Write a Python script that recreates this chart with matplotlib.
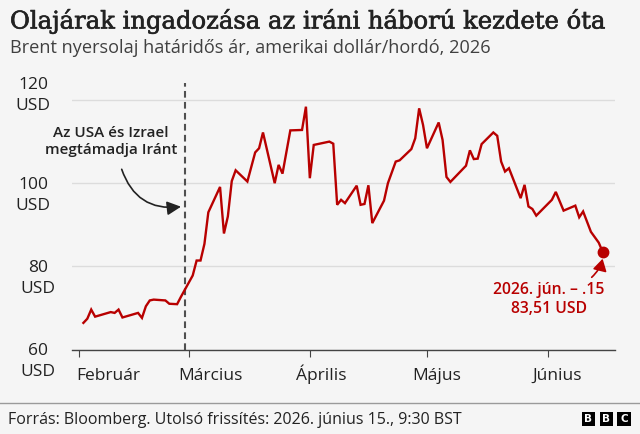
import matplotlib
matplotlib.use("Agg")
import matplotlib.pyplot as plt
import matplotlib.dates as mdates
import matplotlib.patheffects as pe
from matplotlib.patches import FancyArrowPatch, Rectangle
import numpy as np

# ---------------- data ----------------
dates = [
    "2026-02-02", "2026-02-03", "2026-02-04", "2026-02-05", "2026-02-09", "2026-02-10",
    "2026-02-11", "2026-02-12", "2026-02-16", "2026-02-17", "2026-02-18", "2026-02-19",
    "2026-02-20", "2026-02-23", "2026-02-24", "2026-02-26", "2026-02-27", "2026-03-02",
    "2026-03-03", "2026-03-04", "2026-03-05", "2026-03-06", "2026-03-09", "2026-03-10",
    "2026-03-11", "2026-03-12", "2026-03-13", "2026-03-16", "2026-03-18", "2026-03-19",
    "2026-03-20", "2026-03-23", "2026-03-24", "2026-03-25", "2026-03-27", "2026-03-30",
    "2026-03-31", "2026-04-01", "2026-04-02", "2026-04-06", "2026-04-07", "2026-04-08",
    "2026-04-09", "2026-04-10", "2026-04-13", "2026-04-14", "2026-04-15", "2026-04-16",
    "2026-04-17", "2026-04-20", "2026-04-21", "2026-04-23", "2026-04-24", "2026-04-27",
    "2026-04-28", "2026-04-29", "2026-04-30", "2026-05-01", "2026-05-04", "2026-05-05",
    "2026-05-06", "2026-05-07", "2026-05-11", "2026-05-12", "2026-05-13", "2026-05-14",
    "2026-05-15", "2026-05-18", "2026-05-19", "2026-05-20", "2026-05-21", "2026-05-22",
    "2026-05-25", "2026-05-26", "2026-05-27", "2026-05-28", "2026-05-29", "2026-06-02",
    "2026-06-03", "2026-06-05", "2026-06-08", "2026-06-09", "2026-06-10", "2026-06-12",
    "2026-06-14", "2026-06-15",
]
prices = [
    66.4, 67.4, 69.6, 67.9, 69.0, 68.8,
    69.6, 67.7, 68.8, 67.6, 70.4, 71.8,
    72.0, 71.8, 71.0, 70.9, 72.7, 77.8,
    81.4, 81.4, 85.4, 93.0, 99.1, 87.9,
    92.0, 100.5, 103.1, 100.4, 107.4, 108.4,
    112.2, 100.0, 104.4, 102.3, 112.7, 112.8,
    118.4, 101.2, 109.2, 110.0, 109.5, 94.8,
    96.0, 95.2, 99.4, 94.8, 95.0, 99.5,
    90.4, 95.8, 100.0, 105.2, 105.5, 108.2,
    110.8, 118.0, 114.0, 108.4, 114.6, 110.4,
    101.5, 100.3, 104.2, 107.9, 105.8, 105.9,
    109.4, 112.2, 111.4, 105.2, 102.8, 103.6,
    96.4, 99.6, 94.4, 93.8, 92.2, 96.0,
    97.9, 93.4, 94.6, 91.8, 93.2, 88.3,
    85.7, 83.51,
]
month_starts = ["2026-02-01", "2026-03-01", "2026-04-01", "2026-05-01", "2026-06-01"]
month_names = ["Február", "Március", "Április", "Május", "Június"]
y_values = [60, 80, 100, 120]
y_unit = "USD"
event_date = "2026-02-28"
event_text = "Az USA és Izrael\nmegtámadja Iránt"
last_text = "2026. jún. – .15\n83,51 USD"
title = "Olajárak ingadozása az iráni háború kezdete óta"
subtitle = "Brent nyersolaj határidős ár, amerikai dollár/hordó, 2026"
source = "Forrás: Bloomberg. Utolsó frissítés: 2026. június 15., 9:30 BST"

# ---------------- style / layout ----------------
BG = "#f5f5f5"
RED = "#b80000"
DARK = "#222222"
GREY_TXT = "#404040"
SANS = ["Open Sans", "Noto Sans", "DejaVu Sans"]
SERIF = ["DejaVu Serif"]
plt.rcParams["font.family"] = SANS
plt.rcParams["lines.scale_dashes"] = False

W, H, DPI = 640, 434, 100
fig = plt.figure(figsize=(W / DPI, H / DPI), dpi=DPI, facecolor=BG)


def fx(px):
    return px / W


def fy(py):
    return 1 - py / H


ax_left, ax_right, ax_bottom, ax_top = 72, 615, 349.5, 83.4
ax = fig.add_axes([fx(ax_left), fy(ax_bottom), fx(ax_right) - fx(ax_left), fy(ax_top) - fy(ax_bottom)])
ax.set_facecolor(BG)

x = mdates.date2num(np.array(dates, dtype="datetime64[D]"))
xm = mdates.date2num(np.array(month_starts, dtype="datetime64[D]"))
xe = mdates.date2num(np.datetime64(event_date))

px_per_day = 3.904
x0 = xm[0] - (79.5 - ax_left) / px_per_day
x1 = xm[0] + (ax_right - 79.5) / px_per_day
ax.set_xlim(x0, x1)
ax.set_ylim(60, 124)

for s in ["top", "right", "left"]:
    ax.spines[s].set_visible(False)
ax.spines["bottom"].set_color("#444444")
ax.spines["bottom"].set_linewidth(1.0)
ax.set_yticks(y_values)
ax.yaxis.grid(True, color="#dcdcdc", linewidth=1.0)
ax.set_axisbelow(True)
ax.tick_params(axis="y", length=0, labelleft=False)
ax.set_xticks(xm)
ax.tick_params(axis="x", length=5, width=0.8, color="#444444", labelbottom=False)

# event dashed line
ax.axvline(xe, color="#505050", linewidth=1.5, dashes=(4.8, 3.1), zorder=2)

# price line and last point
ax.plot(x, prices, color=RED, linewidth=1.7, solid_joinstyle="miter", zorder=3)
ax.plot(x[-1], prices[-1], "o", color=RED, markersize=7.5, zorder=4)

fig.canvas.draw()
renderer = fig.canvas.get_renderer()


def fit(t, target_w):
    w = t.get_window_extent(renderer).width
    t.set_fontsize(t.get_fontsize() * target_w / w)


def to_px(xd, yd):
    dx, dy = ax.transData.transform((xd, yd))
    return dx, H - dy


# y labels (number right aligned, unit centered under number)
y_shift = [0, 0, 0.5, -17]
for v, sh in zip(y_values, y_shift):
    _, py = to_px(x0, v)
    tn = fig.text(fx(48), fy(py + sh + 5.8), str(v), ha="right", va="baseline",
                  fontsize=12.5, color=DARK)
    bb = tn.get_window_extent(renderer)
    cx = (bb.x0 + bb.x1) / 2
    fig.text(cx / W, fy(py + sh + 26.5), y_unit, ha="center", va="baseline",
             fontsize=12.5, color=DARK)

# month labels
month_dx = [29, 22, 11, 10, 9]
for xv, name, d in zip(xm, month_names, month_dx):
    px, _ = to_px(xv, 60)
    fig.text(fx(px + d), fy(380), name, ha="center", va="baseline", fontsize=12.5, color=DARK)

# titles
t1 = fig.text(fx(10), fy(28.5), title, ha="left", va="baseline", family=SERIF,
              fontsize=17, color=DARK,
              path_effects=[pe.withStroke(linewidth=0.45, foreground=DARK)])
fit(t1, 595)
t2 = fig.text(fx(10), fy(53), subtitle, ha="left", va="baseline", fontsize=12, color=GREY_TXT)
fit(t2, 478)

# event annotation
ta = fig.text(fx(110.8), fy(141.7), event_text, ha="center", va="center",
              multialignment="center", fontsize=11, fontweight="semibold",
              color=DARK, linespacing=1.25)
fit(ta, 131.7)
arr = FancyArrowPatch((fx(121.7), fy(169.3)), (fx(181.0), fy(206.7)),
                      transform=fig.transFigure, connectionstyle="arc3,rad=0.4",
                      arrowstyle="-|>,head_length=0.7,head_width=0.35",
                      mutation_scale=12, color=DARK, linewidth=1.2, shrinkA=0, shrinkB=0)
fig.add_artist(arr)

# last value annotation
px_last, py_last = to_px(x[-1], prices[-1])
tl = fig.text(fx(549), fy(299.7), last_text, ha="center", va="center",
              multialignment="center", fontsize=11, fontweight="semibold",
              color=RED, linespacing=1.25)
fit(tl, 111.7)
arr2 = FancyArrowPatch((fx(591.7), fy(277.3)), (fx(px_last), fy(py_last + 7)),
                       transform=fig.transFigure, connectionstyle="arc3,rad=0.15",
                       arrowstyle="-|>,head_length=0.6,head_width=0.35",
                       mutation_scale=12, color=RED, linewidth=1.2, shrinkA=0, shrinkB=0)
fig.add_artist(arr2)

# footer
fig.add_artist(plt.Line2D([0, 1], [fy(402.7), fy(402.7)], transform=fig.transFigure,
                          color="#9a9a9a", linewidth=1.0))
tf = fig.text(fx(8.3), fy(423.5), source, ha="left", va="baseline", fontsize=11, color=DARK)
fit(tf, 453)

for i, letter in enumerate("BBC"):
    left = 581.7 + i * 17.8
    fig.add_artist(Rectangle((fx(left), fy(425.6)), 13.3 / W, 13.3 / H,
                             transform=fig.transFigure, facecolor="#000000", edgecolor="none"))
    fig.text(fx(left + 6.65), fy(419), letter, ha="center", va="center",
             fontsize=7.5, fontweight="bold", color="white", family=["DejaVu Sans"])

fig.savefig("out.png", dpi=DPI, facecolor=BG)
